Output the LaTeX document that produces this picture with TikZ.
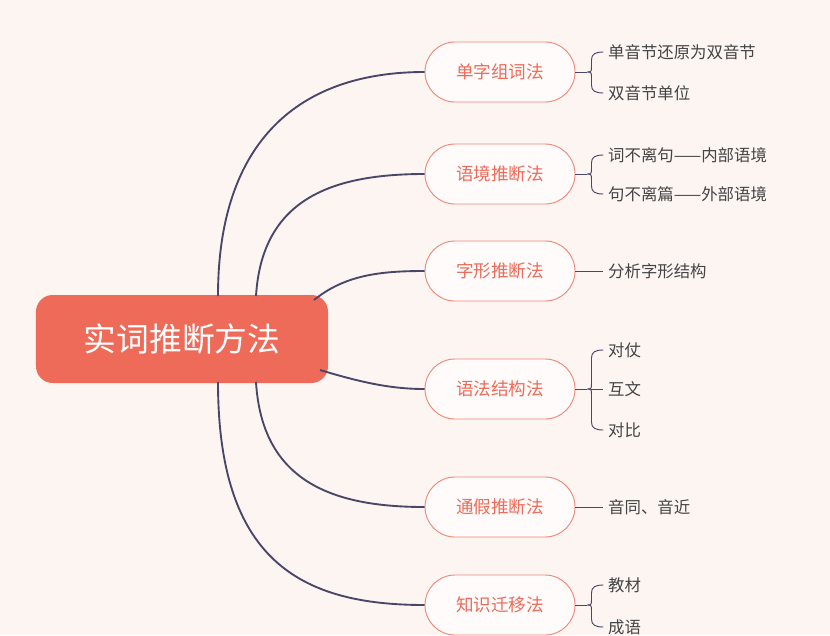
\documentclass[tikz,border=0pt]{standalone}
\usepackage{fontspec}
\setmainfont{Noto Sans CJK SC}
\usetikzlibrary{positioning,calc}
\definecolor{bgpink}{HTML}{FCF5F2}
\definecolor{salmon}{HTML}{EE6A59}
\definecolor{edgeblue}{HTML}{4A4668}
\definecolor{leafgray}{HTML}{444444}
\begin{document}
\begin{tikzpicture}
        [x=0.03cm, y=-0.03cm,
        root/.style={fill=salmon, text=white, rounded corners=0.5cm, minimum width=8.76cm,
            minimum height=2.64cm, font=\fontsize{28}{32}\selectfont},
        method/.style={draw=salmon!80, fill=white!60!bgpink, text=salmon, rounded corners=0.9cm,
            minimum width=4.5cm, minimum height=1.8cm, line width=0.8pt, font=\fontsize{15}{18}\selectfont},
        leaf/.style={text=leafgray, anchor=west, inner sep=0pt, font=\fontsize{14}{17}\selectfont},
        branch/.style={draw=edgeblue, line width=1.6pt},
        brace/.style={draw=edgeblue, line width=0.8pt}]
        \fill [bgpink] (0,0) rectangle (830,635);
        \node [root] (root) at (182,339) {实词推断方法};
        % methods
        \node [method] (m1) at (500,72) {单字组词法};
        \node [method] (m2) at (500,174) {语境推断法};
        \node [method] (m3) at (500,271) {字形推断法};
        \node [method] (m4) at (500,389) {语法结构法};
        \node [method] (m5) at (500,507) {通假推断法};
        \node [method] (m6) at (500,605) {知识迁移法};
        % branches
        \coordinate (r1) at (218,296);
        \coordinate (r2) at (256,296);
        \coordinate (r3) at (314,300);
        \coordinate (r4) at (320,370);
        \coordinate (r5) at (256,382);
        \coordinate (r6) at (218,382);
        \draw [branch] (r1) .. controls (218,140) and (300,72) .. (m1.west);
        \draw [branch] (r2) .. controls (262,200) and (330,174) .. (m2.west);
        \draw [branch] (r3) .. controls (345,275) and (380,271) .. (m3.west);
        \draw [branch] (r4) .. controls (360,382) and (390,389) .. (m4.west);
        \draw [branch] (r5) .. controls (262,480) and (330,507) .. (m5.west);
        \draw [branch] (r6) .. controls (218,560) and (300,605) .. (m6.west);
        % leaves
        \node [leaf] (l11) at (608,52) {单音节还原为双音节};
        \node [leaf] (l12) at (608,93) {双音节单位};
        \node [leaf] (l21) at (608,155) {词不离句——内部语境};
        \node [leaf] (l22) at (608,194) {句不离篇——外部语境};
        \node [leaf] (l31) at (608,271) {分析字形结构};
        \node [leaf] (l41) at (608,350) {对仗};
        \node [leaf] (l42) at (608,389) {互文};
        \node [leaf] (l43) at (608,430) {对比};
        \node [leaf] (l51) at (608,507) {音同、音近};
        \node [leaf] (l61) at (608,585) {教材};
        \node [leaf] (l62) at (608,627) {成语};
        % braces
        \foreach \m/\a/\b in {m1/l11/l12, m2/l21/l22, m4/l41/l43, m6/l61/l62} {
            \draw [brace] (\m.east) -- ++(12,0) coordinate (tip);
            \draw [brace] ([xshift=-4pt]\a.west) .. controls +(-8,0) and +(0,-6) .. ($(tip |- \a)+(4,8)$)
                -- ($(tip)+(4,-5)$) .. controls +(0,4) and +(4,0) .. (tip);
            \draw [brace] ([xshift=-4pt]\b.west) .. controls +(-8,0) and +(0,6) .. ($(tip |- \b)+(4,-8)$)
                -- ($(tip)+(4,5)$) .. controls +(0,-4) and +(4,0) .. (tip);
        }
        \draw [brace] (m3.east) -- ([xshift=-4pt]l31.west);
        \draw [brace] (m5.east) -- ([xshift=-4pt]l51.west);
        \draw [brace] ($(m4.east)+(16,0)$) -- ([xshift=-4pt]l42.west);
\end{tikzpicture}
\end{document}
